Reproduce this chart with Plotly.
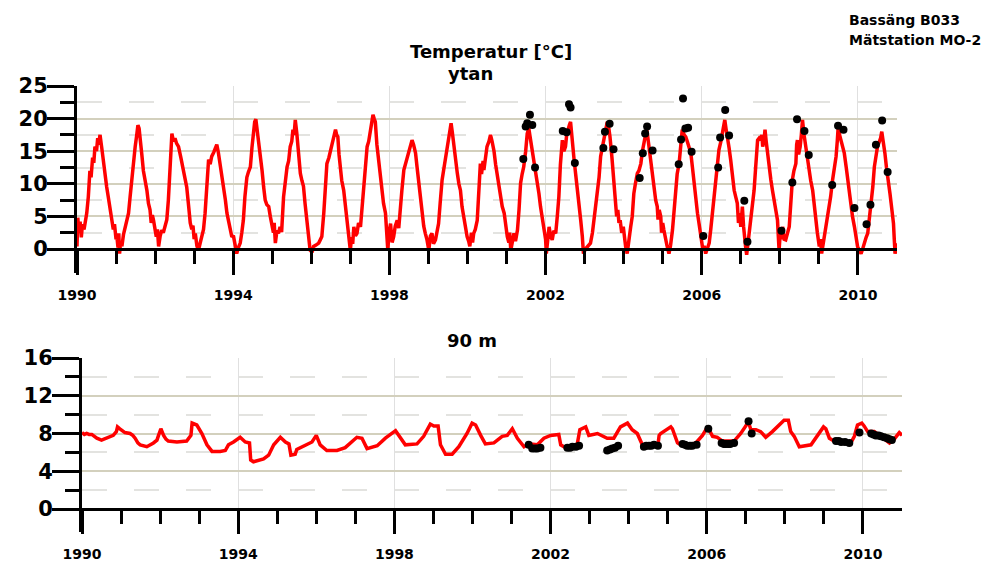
import plotly.graph_objects as go

# ---------------- data ----------------
surf_year = [1990.00,1990.02,1990.05,1990.08,1990.11,1990.14,1990.18,1990.21,1990.25,1990.29,1990.33,1990.36,1990.40,1990.43,1990.46,1990.50,1990.53,1990.55,1990.59,1990.63,1990.68,1990.72,1990.76,1990.80,1990.85,1990.89,1990.93,1990.96,
 1991.00,1991.02,1991.05,1991.07,1991.09,1991.12,1991.15,1991.19,1991.23,1991.27,1991.32,1991.36,1991.40,1991.45,1991.49,1991.53,1991.56,1991.59,1991.62,1991.66,1991.70,1991.75,1991.79,1991.83,1991.87,1991.90,1991.93,1991.96,
 1992.00,1992.03,1992.06,1992.09,1992.13,1992.17,1992.21,1992.26,1992.30,1992.34,1992.38,1992.41,1992.43,1992.47,1992.51,1992.55,1992.60,1992.66,1992.73,1992.77,1992.81,1992.86,1992.90,1992.94,1992.97,
 1993.00,1993.03,1993.07,1993.11,1993.15,1993.20,1993.24,1993.28,1993.32,1993.37,1993.41,1993.45,1993.50,1993.54,1993.58,1993.62,1993.67,1993.71,1993.75,1993.80,1993.84,1993.88,1993.92,1993.96,
 1994.01,1994.05,1994.09,1994.13,1994.18,1994.22,1994.26,1994.30,1994.35,1994.39,1994.44,1994.48,1994.52,1994.55,1994.58,1994.61,1994.65,1994.70,1994.74,1994.78,1994.82,1994.86,1994.91,1994.95,1994.99,
 1995.03,1995.05,1995.08,1995.12,1995.16,1995.20,1995.24,1995.29,1995.34,1995.38,1995.42,1995.46,1995.50,1995.53,1995.56,1995.59,1995.63,1995.67,1995.72,1995.76,1995.80,1995.84,1995.89,1995.93,1995.97,
 1996.02,1996.06,1996.12,1996.19,1996.23,1996.27,1996.32,1996.36,1996.40,1996.45,1996.49,1996.53,1996.57,1996.62,1996.65,1996.68,1996.71,1996.74,1996.78,1996.83,1996.87,1996.91,1996.95,
 1997.00,1997.03,1997.06,1997.09,1997.13,1997.17,1997.21,1997.26,1997.30,1997.34,1997.38,1997.43,1997.47,1997.51,1997.55,1997.58,1997.61,1997.64,1997.68,1997.73,1997.77,1997.81,1997.85,1997.90,1997.93,1997.96,1997.99,
 1998.03,1998.07,1998.11,1998.15,1998.20,1998.24,1998.28,1998.32,1998.37,1998.41,1998.45,1998.50,1998.54,1998.58,1998.62,1998.67,1998.71,1998.75,1998.80,1998.84,1998.88,1998.92,1998.96,
 1999.01,1999.05,1999.09,1999.13,1999.18,1999.22,1999.26,1999.30,1999.35,1999.40,1999.44,1999.48,1999.52,1999.55,1999.58,1999.61,1999.65,1999.70,1999.74,1999.78,1999.82,1999.86,1999.91,1999.95,1999.99,
 2000.03,2000.06,2000.10,2000.13,2000.16,2000.20,2000.25,2000.29,2000.33,2000.36,2000.40,2000.42,2000.46,2000.50,2000.55,2000.59,2000.63,2000.68,2000.72,2000.76,2000.80,2000.85,2000.89,2000.94,2000.98,
 2001.02,2001.06,2001.08,2001.11,2001.15,2001.19,2001.23,2001.28,2001.32,2001.36,2001.40,2001.44,2001.49,2001.53,2001.57,2001.61,2001.66,2001.70,2001.75,2001.79,2001.83,2001.87,2001.92,2001.96,
 2002.00,2002.02,2002.05,2002.09,2002.13,2002.17,2002.21,2002.26,2002.30,2002.34,2002.38,2002.43,2002.47,2002.51,2002.54,2002.57,2002.61,2002.64,2002.68,2002.73,2002.77,2002.81,2002.86,2002.90,2002.94,2002.97,
 2003.02,2003.07,2003.11,2003.15,2003.20,2003.24,2003.28,2003.32,2003.37,2003.41,2003.45,2003.50,2003.54,2003.58,2003.62,2003.65,2003.70,2003.74,2003.78,2003.82,2003.85,2003.88,2003.91,2003.95,2003.99,
 2004.02,2004.05,2004.09,2004.13,2004.18,2004.22,2004.26,2004.30,2004.35,2004.39,2004.44,2004.48,2004.52,2004.56,2004.59,2004.63,2004.68,2004.73,2004.78,2004.82,2004.86,2004.88,2004.91,2004.95,2004.97,
 2005.00,2005.03,2005.07,2005.11,2005.16,2005.20,2005.25,2005.29,2005.33,2005.37,2005.42,2005.46,2005.50,2005.55,2005.59,2005.63,2005.67,2005.72,2005.76,2005.80,2005.84,2005.89,2005.93,2005.97,
 2006.03,2006.06,2006.10,2006.15,2006.19,2006.23,2006.27,2006.32,2006.36,2006.40,2006.44,2006.49,2006.53,2006.56,2006.59,2006.62,2006.66,2006.70,2006.74,2006.78,2006.83,2006.87,2006.91,2006.94,2006.97,
 2007.00,2007.04,2007.07,2007.09,2007.12,2007.15,2007.20,2007.24,2007.29,2007.34,2007.38,2007.43,2007.47,2007.51,2007.54,2007.56,2007.59,2007.62,2007.65,2007.68,2007.72,2007.77,2007.81,2007.85,2007.89,2007.94,2007.96,2007.98,
 2008.01,2008.04,2008.07,2008.11,2008.15,2008.19,2008.24,2008.28,2008.32,2008.36,2008.41,2008.43,2008.45,2008.48,2008.52,2008.55,2008.58,2008.62,2008.66,2008.70,2008.75,2008.79,2008.84,2008.88,2008.92,2008.96,
 2009.01,2009.04,2009.07,2009.11,2009.15,2009.20,2009.24,2009.30,2009.35,2009.40,2009.44,2009.47,2009.50,2009.53,2009.56,2009.60,2009.65,2009.70,2009.74,2009.78,2009.82,2009.86,2009.91,2009.95,2009.99,
 2010.04,2010.08,2010.12,2010.16,2010.21,2010.25,2010.29,2010.33,2010.38,2010.42,2010.46,2010.50,2010.55,2010.58,2010.61,2010.65,2010.69,2010.73,2010.78,2010.82,2010.85,2010.88,2010.91,2010.93,2010.95,2010.98,2011.00]
surf_temp = [0.4,4.8,2.5,4.2,1.8,3.8,3.0,4.0,5.5,8.0,12.0,11.0,14.0,13.2,15.7,15.0,17.0,16.0,17.5,15.7,13.0,11.5,9.5,8.0,6.0,4.5,3.0,3.8,
 1.5,2.0,0.2,2.4,-0.7,1.2,0.4,2.2,3.4,4.5,5.5,8.0,10.6,13.0,15.7,17.5,19.0,18.5,17.2,14.5,12.0,10.5,9.0,7.0,6.0,4.0,5.2,4.4,
 2.5,1.9,3.0,0.4,2.0,2.9,2.5,3.4,4.5,7.5,12.0,16.0,17.7,16.5,17.0,16.2,15.7,14.0,12.0,11.0,9.5,6.5,4.0,3.0,3.6,
 1.5,2.4,0.5,-0.2,0.8,1.9,3.0,5.5,9.5,13.7,13.0,14.2,14.8,15.3,16.0,14.8,13.0,11.5,9.5,7.5,5.5,4.2,3.4,2.0,
 1.9,0.5,-0.7,0.2,0.9,2.5,4.4,8.0,11.0,11.8,12.6,15.5,18.8,19.5,19.9,18.5,16.7,14.0,12.0,9.5,7.5,6.8,6.5,5.0,4.0,
 2.5,4.0,0.9,2.8,2.4,3.4,2.6,8.0,11.0,12.6,13.5,15.7,16.5,18.3,17.5,19.8,17.7,15.0,11.6,10.5,9.6,7.0,4.4,2.0,-0.2,
 -0.5,0.4,0.6,0.9,1.4,1.9,5.5,9.5,13.1,14.0,15.0,15.7,17.0,18.3,17.5,17.2,14.5,12.1,10.5,9.0,7.0,5.0,2.5,
 -0.2,1.8,0.8,3.4,2.0,2.4,4.0,3.4,6.0,9.0,12.5,15.7,16.5,18.3,19.5,20.6,20.0,19.5,16.0,13.1,11.0,9.0,7.0,5.5,3.0,-0.2,2.5,
 3.9,1.0,1.9,3.5,4.4,3.2,5.5,9.0,12.1,13.0,14.2,15.0,16.0,16.7,16.0,14.7,12.5,10.1,7.5,5.5,3.5,2.4,1.5,
 -0.2,2.0,2.4,0.8,1.4,2.5,3.9,7.0,10.6,12.5,14.2,15.5,17.7,18.5,19.3,18.0,15.7,13.5,11.6,10.0,9.0,6.5,4.4,3.0,1.9,
 1.2,0.4,2.5,1.0,2.4,3.0,4.4,8.0,13.1,11.5,13.5,12.1,14.0,15.7,16.5,17.5,16.5,15.0,13.0,11.6,9.5,8.0,6.5,5.5,3.5,
 1.9,1.0,2.5,-0.2,1.5,2.4,1.2,2.9,6.0,10.1,11.5,12.6,15.0,17.7,18.5,17.0,15.7,14.0,12.0,10.6,8.5,6.5,4.5,2.4,
 1.5,-0.7,1.5,3.4,2.0,1.4,2.8,2.4,5.0,8.0,13.0,16.7,15.0,15.7,17.5,18.3,19.0,19.5,16.5,13.7,11.5,9.6,7.0,4.4,2.0,-0.7,
 0.0,0.4,0.6,0.9,2.5,4.4,6.0,8.0,11.0,14.2,15.5,17.2,18.5,19.5,18.5,17.2,14.0,10.6,7.5,5.0,6.0,4.0,4.4,2.5,3.4,
 1.5,0.4,-0.7,1.5,3.4,5.0,8.5,10.0,11.6,12.0,13.1,15.0,16.7,17.5,18.5,16.5,13.7,11.0,9.0,7.5,6.5,4.5,6.0,5.0,2.5,
 4.0,2.9,1.5,0.5,-0.7,0.5,2.9,6.0,9.6,11.5,13.1,16.0,18.3,17.5,17.2,16.5,15.7,14.7,12.6,10.0,7.5,5.5,3.9,2.4,
 -0.2,0.5,-0.7,0.2,0.9,3.0,5.5,8.5,11.1,13.0,15.2,16.5,17.7,18.5,19.8,18.5,17.2,15.5,13.7,11.5,9.0,8.0,7.0,4.0,5.5,
 3.4,6.5,3.5,1.9,0.5,-0.9,1.5,3.4,6.0,9.0,12.5,16.7,17.0,16.7,17.5,15.7,16.5,18.3,16.5,14.7,12.5,10.6,9.0,7.5,5.5,4.4,2.0,-0.2,
 2.5,1.5,3.4,1.5,1.4,2.5,3.4,7.0,10.6,12.0,13.1,16.0,16.7,14.5,15.7,17.5,19.8,17.5,15.7,14.0,12.1,10.5,9.0,6.5,4.4,2.5,
 0.4,1.5,-0.7,0.8,2.4,3.5,5.0,8.0,10.6,12.5,14.2,16.5,19.3,17.5,16.7,16.0,14.7,12.5,10.6,8.5,6.5,5.0,3.4,2.0,0.4,
 -0.3,-0.7,0.0,0.9,1.8,2.4,4.5,6.5,9.5,12.6,14.0,15.7,16.5,17.0,18.0,16.5,14.7,12.5,10.6,8.5,7.0,5.5,3.9,1.5,-0.7,0.2,0.9]

surf_obs_year = [2001.43,2001.49,2001.53,2001.60,2001.66,2001.73,2002.44,2002.54,2002.60,2002.64,2002.75,
 2003.48,2003.52,2003.64,2003.74,2004.41,2004.49,2004.55,2004.60,2004.74,2005.41,2005.47,2005.52,2005.58,2005.65,2005.74,
 2006.04,2006.42,2006.47,2006.60,2006.70,2007.09,2007.17,2008.04,2008.32,2008.44,2008.63,2008.74,2009.34,2009.49,2009.63,
 2009.91,2010.22,2010.32,2010.46,2010.62,2010.76]
surf_obs_temp = [13.8,18.8,19.3,20.6,19.0,12.5,18.1,17.9,22.2,21.7,13.2,
 15.5,18.0,19.2,15.3,10.9,14.7,17.7,18.8,15.1,13.0,16.8,23.1,18.5,18.6,14.9,
 2.0,12.5,17.1,21.3,17.4,7.4,1.1,2.8,10.2,19.9,18.1,14.4,9.8,18.9,18.3,
 6.3,3.8,6.8,16.0,19.7,11.8]

deep_year = [1990.00,1990.06,1990.12,1990.18,1990.25,1990.38,1990.50,1990.68,1990.80,1990.88,1990.91,1990.97,1991.03,1991.10,1991.23,1991.30,1991.36,1991.43,1991.49,1991.66,1991.83,1991.92,1991.96,
 1992.02,1992.09,1992.15,1992.21,1992.43,1992.68,1992.79,1992.82,1992.94,1993.07,1993.13,1993.20,1993.33,1993.54,1993.67,1993.75,1993.88,
 1994.05,1994.18,1994.29,1994.32,1994.39,1994.65,1994.78,1994.91,1995.08,1995.21,1995.30,1995.35,1995.46,1995.50,1995.55,1995.72,1995.89,
 1996.00,1996.10,1996.27,1996.53,1996.74,1996.87,1997.04,1997.17,1997.30,1997.56,1997.77,1998.03,1998.15,1998.28,1998.58,1998.75,1998.92,
 1999.01,1999.12,1999.18,1999.31,1999.48,1999.65,1999.86,1999.99,2000.08,2000.21,2000.33,2000.55,2000.76,2000.89,2001.02,2001.15,2001.32,
 2001.44,2001.66,2001.83,2002.00,2002.21,2002.26,2002.38,2002.68,2002.75,2002.90,2002.98,2003.20,2003.45,2003.62,2003.79,2003.97,
 2004.09,2004.22,2004.35,2004.56,2004.75,2004.78,2004.82,2004.95,2005.08,2005.12,2005.25,2005.33,2005.50,2005.72,2005.89,
 2006.02,2006.15,2006.27,2006.40,2006.70,2006.87,2007.00,2007.06,2007.13,2007.26,2007.38,2007.51,2007.68,2007.85,2007.98,
 2008.09,2008.15,2008.24,2008.37,2008.67,2008.84,2008.99,2009.05,2009.14,2009.26,2009.69,2009.78,2009.86,2009.97,
 2010.03,2010.12,2010.29,2010.46,2010.68,2010.80,2010.93,2011.00]
deep_temp = [8.1,7.9,8.0,7.9,7.9,7.5,7.3,7.6,7.8,8.2,8.7,8.5,8.3,8.1,8.0,7.8,7.5,7.0,6.8,6.6,7.0,7.3,7.8,
 8.5,7.8,7.4,7.2,7.1,7.2,7.8,9.1,8.9,8.0,7.4,6.8,6.1,6.1,6.2,6.8,7.1,
 7.6,7.1,7.0,5.2,5.0,5.3,5.7,6.8,7.6,7.1,6.9,5.7,5.8,6.3,6.4,6.7,7.1,
 7.8,6.8,6.2,6.2,6.5,7.0,7.6,7.5,6.4,6.7,7.5,8.3,7.5,6.8,6.9,7.7,9.0,
 8.8,8.8,6.8,5.8,5.8,6.6,8.0,9.1,8.9,7.8,6.9,7.0,7.7,7.8,8.5,7.5,6.6,
 6.9,6.8,7.5,7.8,7.9,6.8,6.5,6.8,8.4,8.7,7.8,8.0,7.5,7.5,8.7,9.1,
 8.4,8.0,6.8,6.7,6.8,7.8,8.0,8.4,8.7,8.5,7.0,6.8,6.7,7.0,7.8,
 8.7,7.7,7.6,7.2,7.2,8.0,8.8,9.3,8.4,8.4,8.2,7.6,8.2,8.9,9.4,
 9.4,8.2,7.7,6.6,6.8,7.8,8.7,8.5,7.5,7.2,7.0,7.7,8.9,9.1,
 8.8,8.2,8.2,7.7,7.0,7.4,8.1,7.8]

deep_obs_year = [2001.44,2001.53,2001.60,2001.66,2001.74,2002.43,2002.50,2002.56,2002.65,2002.73,
 2003.45,2003.52,2003.58,2003.65,2003.73,2004.39,2004.45,2004.52,2004.58,2004.65,2004.75,
 2005.38,2005.44,2005.50,2005.57,2005.63,2005.74,2006.04,2006.38,2006.44,2006.49,2006.55,2006.60,2006.70,
 2007.07,2007.15,2009.31,2009.38,2009.44,2009.54,2009.65,2009.91,
 2010.21,2010.27,2010.33,2010.40,2010.46,2010.54,2010.62,2010.68,2010.74]
deep_obs_temp = [6.8,6.4,6.4,6.4,6.5,6.5,6.5,6.6,6.6,6.7,
 6.2,6.3,6.4,6.5,6.7,6.6,6.7,6.7,6.7,6.8,6.7,
 6.9,6.8,6.7,6.7,6.7,6.8,8.5,7.0,6.9,6.9,6.9,6.9,7.0,
 9.3,8.0,7.2,7.2,7.1,7.1,7.0,8.1,
 8.0,7.9,7.8,7.8,7.7,7.6,7.5,7.4,7.3]

year_major = [1990, 1994, 1998, 2002, 2006, 2010]
year_minor = [y for y in range(1991, 2010) if y not in year_major]
surf_ticks = [0, 5, 10, 15, 20, 25]
surf_minor = [2.5, 7.5, 12.5, 17.5, 22.5]
deep_ticks = [0, 4, 8, 12, 16]
deep_minor = [2, 6, 10, 14]

# ---------------- figure ----------------
W, H = 993, 561
def px(x):
    return x / W
def py(y):
    return 1 - y / H

RED = "#ff0000"
GRID = "#d3d0bd"
MINGRID = "#e3e3e0"
VGRID = "#e0e0e0"
TICKFONT_X = dict(family="DejaVu Sans", size=14, color="black", weight="bold")
TICKFONT_Y = dict(family="DejaVu Sans", size=21, color="black", weight="bold")

fig = go.Figure()
fig.add_trace(go.Scatter(x=surf_year, y=surf_temp, mode="lines",
                         line=dict(color=RED, width=3.5), xaxis="x", yaxis="y",
                         showlegend=False))
fig.add_trace(go.Scatter(x=surf_obs_year, y=surf_obs_temp, mode="markers",
                         marker=dict(color="black", size=8), xaxis="x", yaxis="y",
                         showlegend=False))
fig.add_trace(go.Scatter(x=deep_year, y=deep_temp, mode="lines",
                         line=dict(color=RED, width=3.5), xaxis="x2", yaxis="y2",
                         showlegend=False))
fig.add_trace(go.Scatter(x=deep_obs_year, y=deep_obs_temp, mode="markers",
                         marker=dict(color="black", size=8), xaxis="x2", yaxis="y2",
                         showlegend=False))

def xaxis_cfg(domain, pos_px, ticklen):
    return dict(domain=domain, range=[1990, 2011], anchor="free", position=py(pos_px),
                automargin=False,
                tickmode="array", tickvals=year_major, ticktext=[str(v) for v in year_major],
                ticks="outside", ticklen=ticklen, tickwidth=3, tickcolor="black",
                showline=True, linecolor="black", linewidth=3,
                showgrid=True, gridcolor=VGRID, gridwidth=1,
                zeroline=False, tickfont=TICKFONT_X, ticklabelstandoff=8,
                minor=dict(tickmode="array", tickvals=year_minor, ticks="outside",
                           ticklen=13, tickwidth=3, tickcolor="black", showgrid=False))

def yaxis_cfg(domain, rng, major, minor, anchor):
    return dict(domain=domain, range=rng, anchor=anchor, automargin=False,
                tickmode="array", tickvals=major, ticktext=[str(v) for v in major],
                ticks="outside", ticklen=27, tickwidth=3, tickcolor="black",
                showline=True, linecolor="black", linewidth=3,
                showgrid=True, gridcolor=GRID, gridwidth=1.5,
                zeroline=False, tickfont=TICKFONT_Y, ticklabelstandoff=-5,
                minor=dict(tickmode="array", tickvals=minor, ticks="outside",
                           ticklen=14, tickwidth=3, tickcolor="black",
                           showgrid=True, gridcolor=MINGRID, gridwidth=1.5,
                           griddash="25px,27px"))

# top panel: 25 at y=86px, 0 at 249px, axis down to 273px
top_ppu = (249 - 86) / 25
top_min = -(273 - 249) / top_ppu
# bottom panel: 16 at 358px, 0 at 509px, axis down to 532px
bot_ppu = (509 - 358) / 16
bot_min = -(532 - 509) / bot_ppu

fig.update_layout(
    template="none",
    width=W, height=H, autosize=False,
    margin=dict(l=0, r=0, t=0, b=0, pad=0, autoexpand=False),
    paper_bgcolor="white", plot_bgcolor="white",
    showlegend=False,
    xaxis=xaxis_cfg([px(77), px(897)], 249, 24),
    yaxis=yaxis_cfg([py(273), py(86)], [top_min, 25], surf_ticks, surf_minor, "x"),
    xaxis2=xaxis_cfg([px(82), px(902)], 509, 23),
    yaxis2=yaxis_cfg([py(532), py(358)], [bot_min, 16], deep_ticks, deep_minor, "x2"),
)

ann = [
    dict(text="Bassäng B033", x=px(847), y=py(20), xanchor="left", size=14),
    dict(text="Mätstation MO-2", x=px(847), y=py(40), xanchor="left", size=14),
    dict(text="Temperatur [°C]", x=px(491), y=py(52), xanchor="center", size=18),
    dict(text="ytan", x=px(470), y=py(73), xanchor="center", size=18),
    dict(text="90 m", x=px(472), y=py(340), xanchor="center", size=18),
]
for a in ann:
    size = a.pop("size")
    fig.add_annotation(xref="paper", yref="paper", yanchor="middle", showarrow=False,
                       font=dict(family="DejaVu Sans", size=size, color="black", weight="bold"),
                       **a)

fig.write_html("out.html", config={"displayModeBar": False},
               post_script="document.body.style.margin='0';document.body.style.overflow='hidden';")
